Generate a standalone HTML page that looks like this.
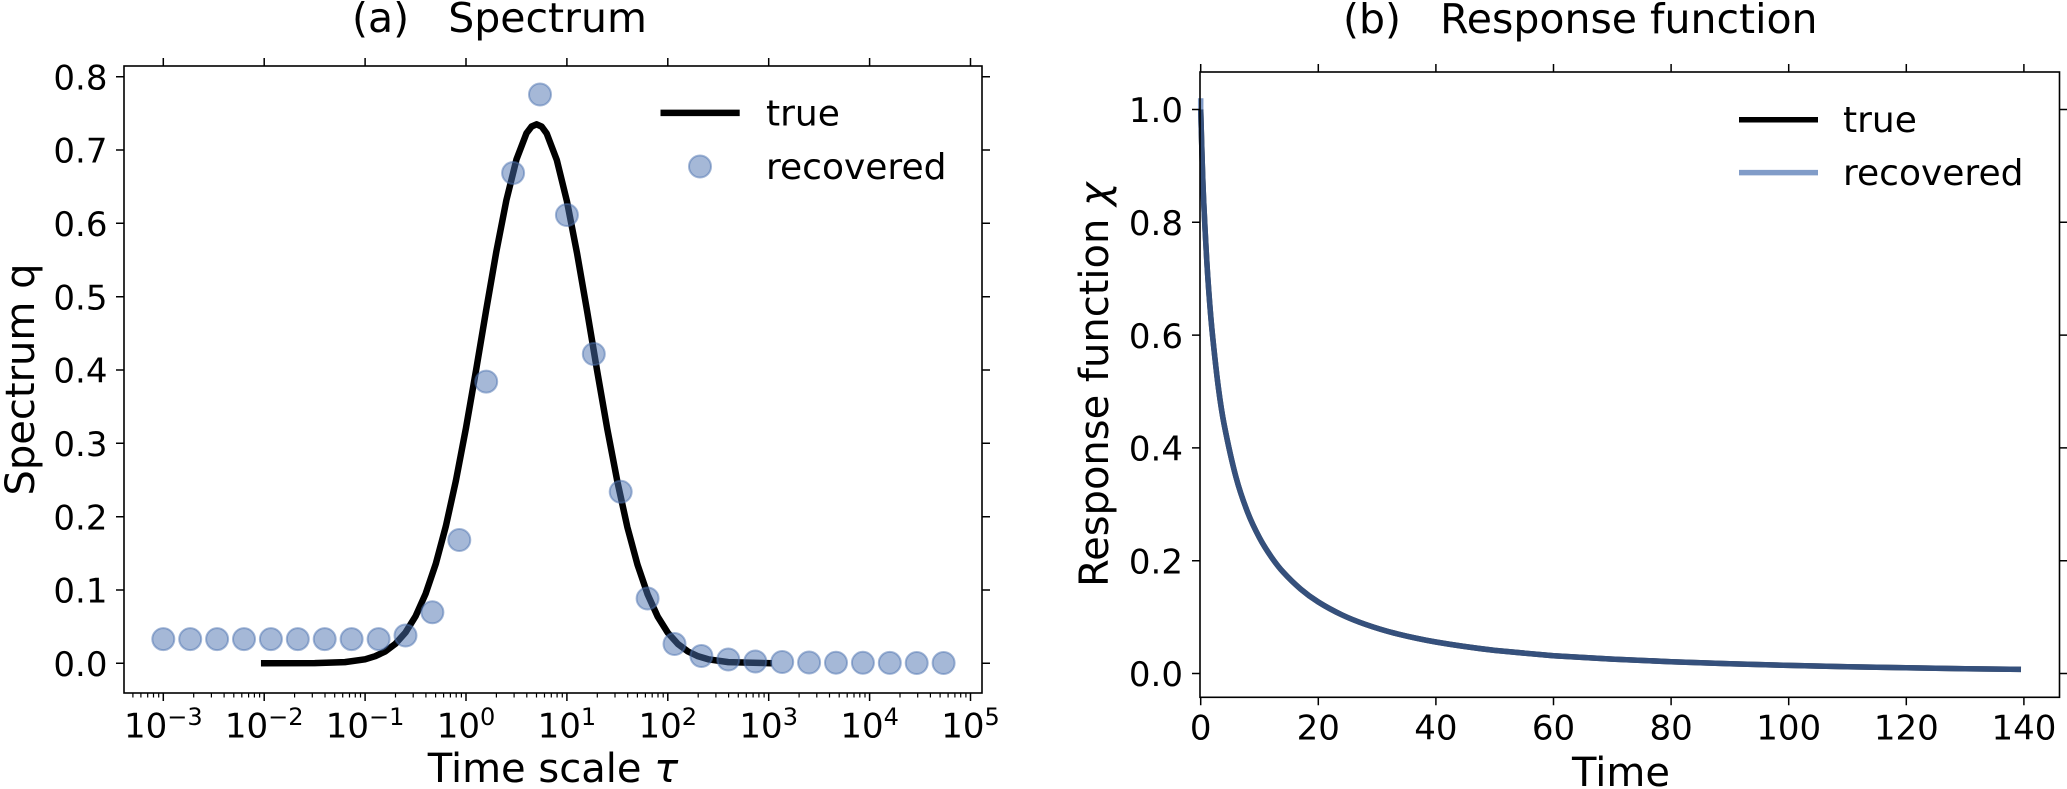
<!DOCTYPE html>
<html><head><meta charset="utf-8"><style>
html,body{margin:0;padding:0;background:#fff;}
svg{display:block;}
text{font-family:"DejaVu Sans","Liberation Sans",sans-serif;fill:#000;}
</style></head><body>
<svg width="2067" height="789" viewBox="0 0 2067 789" xmlns="http://www.w3.org/2000/svg">
<rect width="2067" height="789" fill="#fff"/>

<!-- ============ LEFT PANEL ============ -->
<text x="352" y="32" font-size="41" xml:space="preserve">(a)   Spectrum</text>

<!-- true spectrum -->
<polyline fill="none" stroke="#000" stroke-width="6.5" stroke-linejoin="round" stroke-linecap="square"
points="264.2,663.3 314.7,663.15 344.9,662.1 365.1,659.3 375.2,656.2 385.3,651.4 395.4,643.8 405.5,632.5 415.6,616.2 425.6,593.8 435.7,564.1 445.8,526.4 455.9,480.7 466,427.9 476.1,370.0 486.2,309.9 496.3,251.8 506.4,200.1 516.5,159.3 526.5,133.2 531.6,126.5 536.6,124.3 541.7,126.6 546.7,133.5 556.8,160.0 566.9,201.1 577,253.0 587.1,311.1 597.2,371.2 607.3,429.1 617.4,481.7 627.4,527.3 637.5,564.7 647.6,594.3 657.7,616.6 667.8,632.75 677.9,644.0 688,651.5 698.1,656.3 708.2,659.3 728.3,662.1 768.7,663.2"/>

<!-- recovered points -->
<g fill="#4C72B0" fill-opacity="0.5" stroke="#4C72B0" stroke-opacity="0.5" stroke-width="2">
<circle cx="163.3" cy="639.1" r="11"/><circle cx="190.2" cy="639.1" r="11"/><circle cx="217.1" cy="639.1" r="11"/>
<circle cx="244.0" cy="639.1" r="11"/><circle cx="270.9" cy="639.1" r="11"/><circle cx="297.8" cy="639.1" r="11"/>
<circle cx="324.7" cy="639.1" r="11"/><circle cx="351.6" cy="639.1" r="11"/><circle cx="378.6" cy="639.1" r="11"/>
<circle cx="405.5" cy="635.5" r="11"/><circle cx="432.4" cy="612.3" r="11"/><circle cx="459.3" cy="540" r="11"/>
<circle cx="486.2" cy="381.6" r="11"/><circle cx="513.1" cy="173" r="11"/><circle cx="540.0" cy="94.5" r="11"/>
<circle cx="566.9" cy="215" r="11"/><circle cx="593.8" cy="354" r="11"/><circle cx="620.7" cy="491.8" r="11"/>
<circle cx="647.6" cy="598.5" r="11"/><circle cx="674.5" cy="644" r="11"/><circle cx="701.4" cy="656" r="11"/>
<circle cx="728.3" cy="659.5" r="11"/><circle cx="755.3" cy="661.5" r="11"/><circle cx="782.2" cy="662" r="11"/>
<circle cx="809.1" cy="662.5" r="11"/><circle cx="836.0" cy="662.7" r="11"/><circle cx="862.9" cy="662.8" r="11"/>
<circle cx="889.8" cy="662.9" r="11"/><circle cx="916.7" cy="663" r="11"/><circle cx="943.6" cy="663" r="11"/>
</g>

<!-- legend left -->
<line x1="660.5" y1="112.9" x2="739.7" y2="112.9" stroke="#000" stroke-width="6.5"/>
<text x="766" y="125.5" font-size="36">true</text>
<circle cx="700" cy="166.5" r="11" fill="#4C72B0" fill-opacity="0.5" stroke="#4C72B0" stroke-opacity="0.5" stroke-width="2"/>
<text x="766" y="179.1" font-size="36">recovered</text>

<!-- spines -->
<rect x="124" y="66" width="858" height="627" fill="none" stroke="#000" stroke-width="1.6"/>

<!-- ticks left panel -->
<path stroke="#000" stroke-width="1.5" fill="none" d="
M116,663.3h8 M116,590h8 M116,516.7h8 M116,443.3h8 M116,370h8 M116,296.7h8 M116,223.3h8 M116,150h8 M116,76.7h8
M982,663.3h8 M982,590h8 M982,516.7h8 M982,443.3h8 M982,370h8 M982,296.7h8 M982,223.3h8 M982,150h8 M982,76.7h8
M163.3,693v8 M264.2,693v8 M365.1,693v8 M466,693v8 M566.9,693v8 M667.8,693v8 M768.7,693v8 M869.6,693v8 M970.5,693v8
M163.3,66v-8 M264.2,66v-8 M365.1,66v-8 M466,66v-8 M566.9,66v-8 M667.8,66v-8 M768.7,66v-8 M869.6,66v-8 M970.5,66v-8"/>
<path stroke="#000" stroke-width="1.2" fill="none" d="
M132.9,693v4.5 M140.9,693v4.5 M147.7,693v4.5 M153.5,693v4.5 M158.7,693v4.5
M193.7,693v4.5 M211.4,693v4.5 M224.1,693v4.5 M233.8,693v4.5 M241.8,693v4.5 M248.6,693v4.5 M254.4,693v4.5 M259.6,693v4.5
M294.6,693v4.5 M312.3,693v4.5 M325.0,693v4.5 M334.7,693v4.5 M342.7,693v4.5 M349.5,693v4.5 M355.3,693v4.5 M360.5,693v4.5
M395.5,693v4.5 M413.2,693v4.5 M425.9,693v4.5 M435.6,693v4.5 M443.6,693v4.5 M450.4,693v4.5 M456.2,693v4.5 M461.4,693v4.5
M496.4,693v4.5 M514.1,693v4.5 M526.8,693v4.5 M536.5,693v4.5 M544.5,693v4.5 M551.3,693v4.5 M557.1,693v4.5 M562.3,693v4.5
M597.3,693v4.5 M615.0,693v4.5 M627.7,693v4.5 M637.4,693v4.5 M645.4,693v4.5 M652.2,693v4.5 M658.0,693v4.5 M663.2,693v4.5
M698.2,693v4.5 M715.9,693v4.5 M728.6,693v4.5 M738.3,693v4.5 M746.3,693v4.5 M753.1,693v4.5 M758.9,693v4.5 M764.1,693v4.5
M799.1,693v4.5 M816.8,693v4.5 M829.5,693v4.5 M839.2,693v4.5 M847.2,693v4.5 M854.0,693v4.5 M859.8,693v4.5 M865.0,693v4.5
M900.0,693v4.5 M917.7,693v4.5 M930.4,693v4.5 M940.1,693v4.5 M948.1,693v4.5 M954.9,693v4.5 M960.7,693v4.5 M965.9,693v4.5"/>

<!-- y tick labels left -->
<g font-size="34" text-anchor="end">
<text x="107.5" y="676">0.0</text><text x="107.5" y="602.7">0.1</text><text x="107.5" y="529.4">0.2</text>
<text x="107.5" y="456">0.3</text><text x="107.5" y="382.7">0.4</text><text x="107.5" y="309.4">0.5</text>
<text x="107.5" y="236">0.6</text><text x="107.5" y="162.7">0.7</text><text x="107.5" y="89.4">0.8</text>
</g>
<!-- x tick labels left -->
<g font-size="34" text-anchor="middle">
<text x="163.3" y="737.3">10<tspan font-size="24" dy="-12.5">−3</tspan></text>
<text x="264.2" y="737.3">10<tspan font-size="24" dy="-12.5">−2</tspan></text>
<text x="365.1" y="737.3">10<tspan font-size="24" dy="-12.5">−1</tspan></text>
<text x="466" y="737.3">10<tspan font-size="24" dy="-12.5">0</tspan></text>
<text x="566.9" y="737.3">10<tspan font-size="24" dy="-12.5">1</tspan></text>
<text x="667.8" y="737.3">10<tspan font-size="24" dy="-12.5">2</tspan></text>
<text x="768.7" y="737.3">10<tspan font-size="24" dy="-12.5">3</tspan></text>
<text x="869.6" y="737.3">10<tspan font-size="24" dy="-12.5">4</tspan></text>
<text x="970.5" y="737.3">10<tspan font-size="24" dy="-12.5">5</tspan></text>
</g>
<text x="553" y="782" font-size="40" text-anchor="middle">Time scale <tspan font-style="italic">τ</tspan></text>
<text transform="translate(34,379.5) rotate(-90)" font-size="40" text-anchor="middle">Spectrum q</text>

<!-- ============ RIGHT PANEL ============ -->
<text x="1343" y="33" font-size="41" xml:space="preserve">(b)   Response function</text>

<path fill="none" stroke="#000" stroke-width="5.5" stroke-linejoin="round" d="M1200.7,109.5
C1200.95,118.05 1201.72,145.85 1202.2,160.8
C1202.68,175.75 1202.87,183.03 1203.6,199.2
C1204.33,215.37 1205.62,240.88 1206.6,257.8
C1207.58,274.72 1208.52,287.82 1209.5,300.7
C1210.48,313.58 1211.03,320.72 1212.5,335.1
C1213.97,349.48 1216.35,372.05 1218.3,387.0
C1220.25,401.95 1221.25,409.77 1224.2,424.8
C1227.15,439.83 1232.08,462.58 1236.0,477.2
C1239.92,491.82 1243.78,502.4 1247.7,512.5
C1251.62,522.6 1255.57,530.4 1259.5,537.8
C1263.43,545.2 1267.38,551.22 1271.3,556.9
C1275.22,562.58 1278.1,566.53 1283.0,571.9
C1287.9,577.27 1294.82,584.08 1300.7,589.1
C1306.58,594.12 1311.45,597.72 1318.3,602.0
C1325.15,606.28 1333.97,611.08 1341.8,614.8
C1349.63,618.52 1356.48,621.23 1365.3,624.3
C1374.12,627.37 1382.93,630.25 1394.7,633.2
C1406.47,636.15 1419.23,639.13 1435.9,642.0
C1452.57,644.87 1475.1,648.1 1494.7,650.4
L1553.5,655.8 L1612.3,659.1 L1671.1,661.7 L1729.9,663.7 L1788.7,665.4 L1847.5,666.7 L1906.3,667.8 L1965.1,668.7 L2021.0,669.4"/>
<path fill="none" stroke="#4C72B0" stroke-opacity="0.7" stroke-width="5.5" stroke-linejoin="round" d="M1200.7,98.2 L1200.7,109.5
C1200.95,118.05 1201.72,145.85 1202.2,160.8
C1202.68,175.75 1202.87,183.03 1203.6,199.2
C1204.33,215.37 1205.62,240.88 1206.6,257.8
C1207.58,274.72 1208.52,287.82 1209.5,300.7
C1210.48,313.58 1211.03,320.72 1212.5,335.1
C1213.97,349.48 1216.35,372.05 1218.3,387.0
C1220.25,401.95 1221.25,409.77 1224.2,424.8
C1227.15,439.83 1232.08,462.58 1236.0,477.2
C1239.92,491.82 1243.78,502.4 1247.7,512.5
C1251.62,522.6 1255.57,530.4 1259.5,537.8
C1263.43,545.2 1267.38,551.22 1271.3,556.9
C1275.22,562.58 1278.1,566.53 1283.0,571.9
C1287.9,577.27 1294.82,584.08 1300.7,589.1
C1306.58,594.12 1311.45,597.72 1318.3,602.0
C1325.15,606.28 1333.97,611.08 1341.8,614.8
C1349.63,618.52 1356.48,621.23 1365.3,624.3
C1374.12,627.37 1382.93,630.25 1394.7,633.2
C1406.47,636.15 1419.23,639.13 1435.9,642.0
C1452.57,644.87 1475.1,648.1 1494.7,650.4
L1553.5,655.8 L1612.3,659.1 L1671.1,661.7 L1729.9,663.7 L1788.7,665.4 L1847.5,666.7 L1906.3,667.8 L1965.1,668.7 L2021.0,669.4"/>

<!-- legend right -->
<line x1="1739" y1="119.8" x2="1818" y2="119.8" stroke="#000" stroke-width="5.5"/>
<text x="1843" y="131.9" font-size="36">true</text>
<line x1="1739" y1="172.6" x2="1818" y2="172.6" stroke="#4C72B0" stroke-opacity="0.7" stroke-width="5.5"/>
<text x="1843" y="185.2" font-size="36">recovered</text>

<rect x="1200" y="72" width="859.5" height="625.3" fill="none" stroke="#000" stroke-width="1.6"/>

<path stroke="#000" stroke-width="1.5" fill="none" d="
M1192,673.5h8 M1192,560.7h8 M1192,447.9h8 M1192,335.1h8 M1192,222.3h8 M1192,109.5h8
M2059.5,673.5h8 M2059.5,560.7h8 M2059.5,447.9h8 M2059.5,335.1h8 M2059.5,222.3h8 M2059.5,109.5h8
M1200.7,697.3v8 M1318.3,697.3v8 M1435.9,697.3v8 M1553.5,697.3v8 M1671.1,697.3v8 M1788.7,697.3v8 M1906.3,697.3v8 M2023.9,697.3v8
M1200.7,72v-8 M1318.3,72v-8 M1435.9,72v-8 M1553.5,72v-8 M1671.1,72v-8 M1788.7,72v-8 M1906.3,72v-8 M2023.9,72v-8"/>

<g font-size="34" text-anchor="end">
<text x="1183" y="686.2">0.0</text><text x="1183" y="573.4">0.2</text><text x="1183" y="460.6">0.4</text>
<text x="1183" y="347.8">0.6</text><text x="1183" y="235">0.8</text><text x="1183" y="122.2">1.0</text>
</g>
<g font-size="34" text-anchor="middle">
<text x="1200.7" y="739.5">0</text><text x="1318.3" y="739.5">20</text><text x="1435.9" y="739.5">40</text>
<text x="1553.5" y="739.5">60</text><text x="1671.1" y="739.5">80</text><text x="1788.7" y="739.5">100</text>
<text x="1906.3" y="739.5">120</text><text x="2023.9" y="739.5">140</text>
</g>
<text x="1621" y="786" font-size="40" text-anchor="middle">Time</text>
<text transform="translate(1108,384.6) rotate(-90)" font-size="40" text-anchor="middle">Response function <tspan font-style="italic">χ</tspan></text>
</svg>
</body></html>
